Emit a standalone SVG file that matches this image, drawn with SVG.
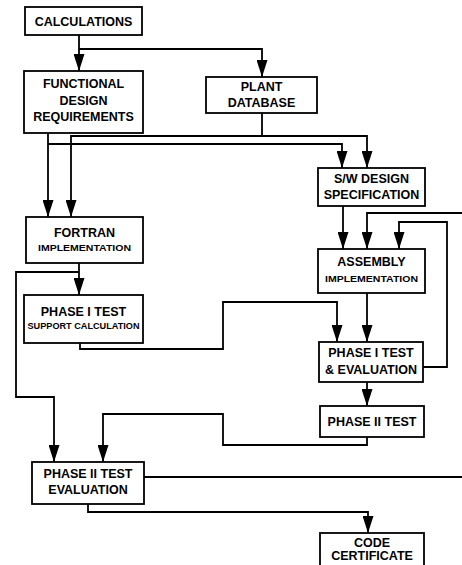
<svg xmlns="http://www.w3.org/2000/svg" width="462" height="565" viewBox="0 0 462 565">
<defs>
<style>
.box{fill:#fff;stroke:#000;stroke-width:1.8}
.c{fill:none;stroke:#000;stroke-width:1.8}
text{font-family:"Liberation Sans",Arial,sans-serif;font-weight:bold;fill:#000;text-anchor:middle}
.t{font-size:12.5px}
.s{font-size:9.5px}
</style>
<marker id="ah" viewBox="0 0 17 11" markerWidth="17" markerHeight="11" markerUnits="userSpaceOnUse" refX="17" refY="5.5" orient="auto">
<path d="M0,0 L17,5.5 L0,11 z" fill="#000"/>
</marker>
</defs>
<rect width="462" height="565" fill="#fff"/>
<g id="connectors">
<path class="c" d="M79,35 V71" marker-end="url(#ah)"/>
<path class="c" d="M79,49 H262 V77" marker-end="url(#ah)"/>
<path class="c" d="M48,133 V217" marker-end="url(#ah)"/>
<path class="c" d="M48,144 H342 V168" marker-end="url(#ah)"/>
<path class="c" d="M262,113 V136 H71 V217" marker-end="url(#ah)"/>
<path class="c" d="M262,136 H367 V168" marker-end="url(#ah)"/>
<path class="c" d="M343,206 V249" marker-end="url(#ah)"/>
<path class="c" d="M462,213 H367 V249" marker-end="url(#ah)"/>
<path class="c" d="M423,367 H447 V222 H399 V249" marker-end="url(#ah)"/>
<path class="c" d="M79,263 V295" marker-end="url(#ah)"/>
<path class="c" d="M79,272 H16 V397 H54 V462" marker-end="url(#ah)"/>
<path class="c" d="M80,343 V349 H223 V302 H337 V342" marker-end="url(#ah)"/>
<path class="c" d="M367,293 V342" marker-end="url(#ah)"/>
<path class="c" d="M367,382 V406" marker-end="url(#ah)"/>
<path class="c" d="M367,437 V445 H223 V414 H103 V462" marker-end="url(#ah)"/>
<path class="c" d="M144,477 H462"/>
<path class="c" d="M88,504 V512 H368 V533" marker-end="url(#ah)"/>
</g>
<g id="calculations">
<rect class="box" x="25" y="7" width="117" height="28"/>
<text class="t" x="83.5" y="25.5">CALCULATIONS</text>
</g>
<g id="fdr">
<rect class="box" x="24" y="71" width="119" height="62"/>
<text class="t" x="83.5" y="87.5">FUNCTIONAL</text>
<text class="t" x="83.5" y="104.5">DESIGN</text>
<text class="t" x="83.5" y="121">REQUIREMENTS</text>
</g>
<g id="plant">
<rect class="box" x="206" y="77" width="111" height="36"/>
<text class="t" x="261.5" y="91">PLANT</text>
<text class="t" x="261.5" y="107">DATABASE</text>
</g>
<g id="swds">
<rect class="box" x="318" y="168" width="107" height="38"/>
<text class="t" x="371.5" y="183">S/W DESIGN</text>
<text class="t" x="371.5" y="199">SPECIFICATION</text>
</g>
<g id="fortran">
<rect class="box" x="26" y="217" width="117" height="46"/>
<text class="t" x="84.5" y="237">FORTRAN</text>
<text class="s" x="84.5" y="251" textLength="93" lengthAdjust="spacingAndGlyphs">IMPLEMENTATION</text>
</g>
<g id="assembly">
<rect class="box" x="318" y="249" width="107" height="44"/>
<text class="t" x="371.5" y="266">ASSEMBLY</text>
<text class="s" x="371.5" y="282" textLength="93" lengthAdjust="spacingAndGlyphs">IMPLEMENTATION</text>
</g>
<g id="phase1support">
<rect class="box" x="24" y="295" width="119" height="48"/>
<text class="t" x="83.5" y="316">PHASE I TEST</text>
<text class="s" x="83.5" y="329" font-size="9" textLength="112" lengthAdjust="spacingAndGlyphs">SUPPORT CALCULATION</text>
</g>
<g id="phase1eval">
<rect class="box" x="319" y="342" width="104" height="40"/>
<text class="t" x="371" y="357">PHASE I TEST</text>
<text class="t" x="371" y="374">&amp; EVALUATION</text>
</g>
<g id="phase2test">
<rect class="box" x="320" y="406" width="104" height="31"/>
<text class="t" x="372" y="426">PHASE II TEST</text>
</g>
<g id="phase2eval">
<rect class="box" x="32" y="462" width="112" height="42"/>
<text class="t" x="88" y="478">PHASE II TEST</text>
<text class="t" x="88" y="494">EVALUATION</text>
</g>
<g id="codecert">
<rect class="box" x="320" y="533" width="104" height="40"/>
<text class="t" x="372" y="547" font-size="11">CODE</text>
<text class="t" x="372" y="560" font-size="11">CERTIFICATE</text>
</g>
</svg>
